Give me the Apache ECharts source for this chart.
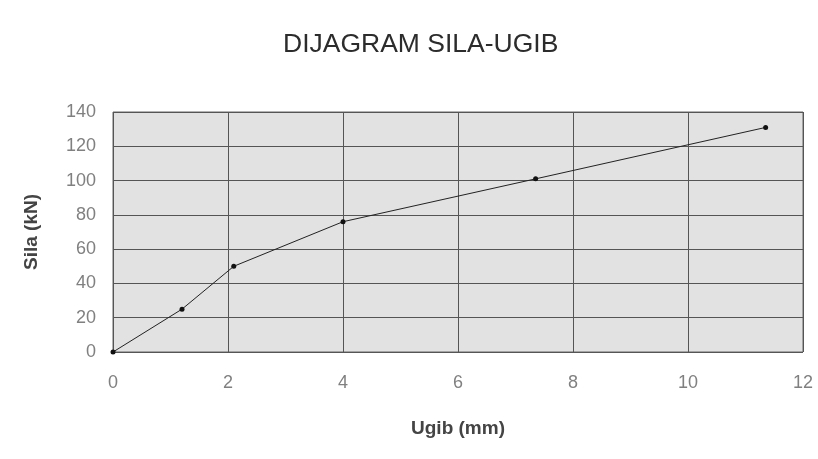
<!DOCTYPE html>
<html>
<head>
<meta charset="utf-8">
<script src="https://cdn.jsdelivr.net/npm/echarts@6/dist/echarts.min.js"></script>
<style>
    html, body { margin: 0; padding: 0; background: #fff; }
    #main { width: 818px; height: 459px; }
</style>
</head>
<body>
<div id="main"></div>
<script>
// ugib (mm) i sila (kN) očitano sa slike
const ugib = [0, 1.2, 2.1, 4.0, 7.35, 11.35]
const sila = [0, 25, 50, 76, 101, 131]
const xTicks = [0, 2, 4, 6, 8, 10, 12]
const yTicks = [0, 20, 40, 60, 80, 100, 120, 140]

const chart = echarts.init(document.getElementById('main'))
chart.setOption({
    animation: false,
    title: {
        text: 'DIJAGRAM SILA-UGIB',
        left: 283,
        top: 31,
        padding: 0,
        textStyle: {
            fontFamily: 'Liberation Sans',
            fontSize: 26.5,
            fontWeight: 'normal',
            color: '#2c2c2c',
        },
    },
    grid: {
        left: 113,
        right: 15,
        top: 112,
        bottom: 107,
        show: true,
        backgroundColor: '#e2e2e2',
        borderColor: '#666',
        borderWidth: 1,
    },
    xAxis: {
        type: 'value',
        min: xTicks[0],
        max: xTicks[xTicks.length - 1],
        interval: 2,
        name: 'Ugib (mm)',
        nameLocation: 'middle',
        nameGap: 67,
        nameTextStyle: { fontFamily: 'Liberation Sans', fontSize: 19, fontWeight: 'bold', color: '#444' },
        axisLine: { show: false },
        axisTick: { show: false },
        axisLabel: { margin: 22, fontFamily: 'Liberation Sans', fontSize: 18, color: '#808080' },
        splitLine: { lineStyle: { color: '#555', width: 1 } },
    },
    yAxis: {
        type: 'value',
        min: yTicks[0],
        max: yTicks[yTicks.length - 1],
        interval: 20,
        name: 'Sila (kN)',
        nameLocation: 'middle',
        nameGap: 72,
        nameTextStyle: { fontFamily: 'Liberation Sans', fontSize: 19, fontWeight: 'bold', color: '#444' },
        axisLine: { show: false },
        axisTick: { show: false },
        axisLabel: { margin: 17, fontFamily: 'Liberation Sans', fontSize: 18, color: '#808080' },
        splitLine: { lineStyle: { color: '#555', width: 1 } },
    },
    series: [
        {
            type: 'line',
            data: ugib.map((u, i) => [u, sila[i]]),
            symbol: 'circle',
            symbolSize: 5,
            lineStyle: { color: '#222', width: 1 },
            itemStyle: { color: '#111' },
        },
    ],
})
</script>
</body>
</html>
